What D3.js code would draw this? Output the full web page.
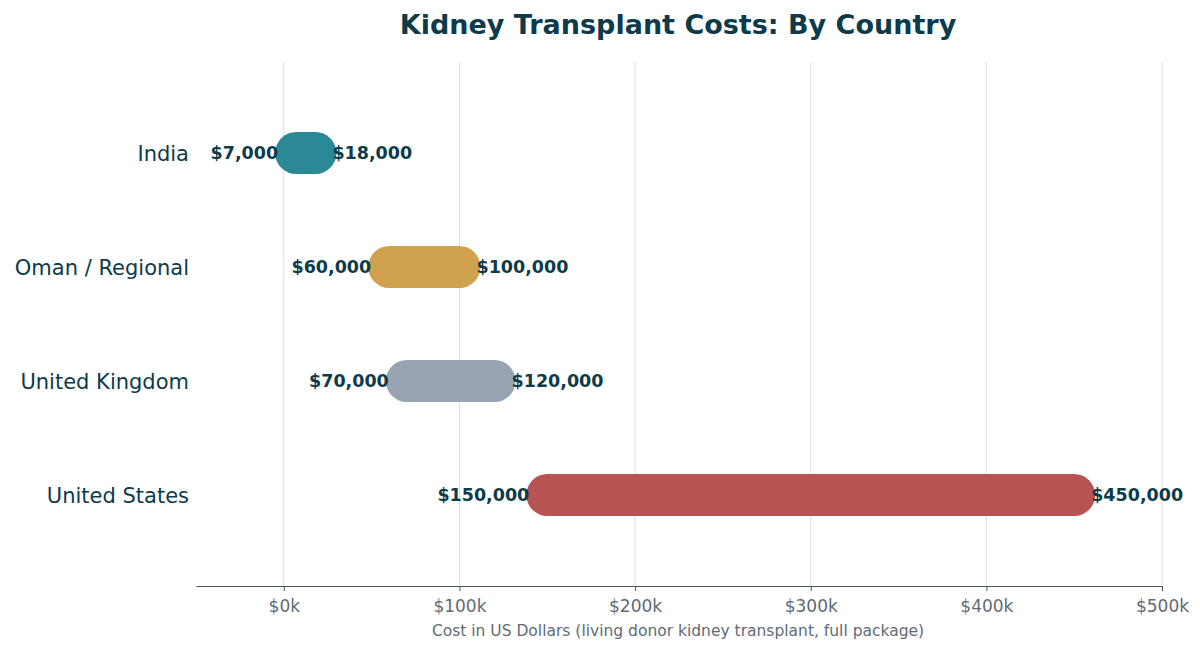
<!DOCTYPE html>
<html><head><meta charset="utf-8">
<script src="https://cdn.jsdelivr.net/npm/d3@7"></script>
<style>body{margin:0;background:#fff;font-family:"DejaVu Sans",sans-serif}</style>
</head><body><svg id="chart" width="1200" height="651"></svg>
<script>
const countries = ["India", "Oman / Regional", "United Kingdom", "United States"];
const lowCost = [7000, 60000, 70000, 150000];
const highCost = [18000, 100000, 120000, 450000];
const barColors = ["#2a8994", "#d1a24d", "#98a4b2", "#b85353"];
const tickValues = [0, 100000, 200000, 300000, 400000, 500000];

const ink = "#0d3b4a";
const svg = d3.select("#chart");
const x = d3.scaleLinear().domain([-50000, 500000]).range([196, 1162]);
const y = d3.scaleBand().domain(countries).range([96, 552]).padding(0);
const barH = 42;
const fmt = v => "$" + d3.format(",")(v);

svg.append("text").attr("x", 678).attr("y", 34).attr("text-anchor", "middle")
  .attr("font-size", 27).attr("font-weight", "bold").attr("fill", ink)
  .text("Kidney Transplant Costs: By Country");

// grid
svg.append("g").selectAll("line").data(tickValues).enter().append("line")
  .attr("x1", d => x(d)).attr("x2", d => x(d)).attr("y1", 62).attr("y2", 586)
  .attr("stroke", "#dddddd").attr("stroke-width", 1);

// axis
const axis = svg.append("g").attr("transform", "translate(0,586)")
  .call(d3.axisBottom(x).tickValues(tickValues).tickSize(5).tickSizeOuter(0).tickPadding(9)
    .tickFormat(d => "$" + d / 1000 + "k"));
axis.select(".domain").attr("stroke", "#4a5a63").attr("stroke-width", 1.2);
axis.selectAll(".tick line").attr("stroke", "#4a5a63");
axis.selectAll("text").attr("font-size", 17).attr("fill", "#5f6b73")
  .attr("font-family", "DejaVu Sans");

svg.append("text").attr("x", 678).attr("y", 636).attr("text-anchor", "middle")
  .attr("font-size", 15.5).attr("fill", "#5f6b73")
  .text("Cost in US Dollars (living donor kidney transplant, full package)");

const cy = d => y(d) + y.bandwidth() / 2;

// bars
svg.append("g").selectAll("line").data(countries).enter().append("line")
  .attr("x1", (d, i) => x(lowCost[i])).attr("x2", (d, i) => x(highCost[i]))
  .attr("y1", cy).attr("y2", cy)
  .attr("stroke", (d, i) => barColors[i]).attr("stroke-width", barH)
  .attr("stroke-linecap", "round");

// country labels
svg.append("g").selectAll("text").data(countries).enter().append("text")
  .attr("x", 189).attr("y", cy).attr("dy", "0.38em").attr("text-anchor", "end")
  .attr("font-size", 21).attr("fill", ink).text(d => d);

// value labels
svg.append("g").selectAll("text").data(countries).enter().append("text")
  .attr("x", (d, i) => x(lowCost[i]) - barH / 2 + 3).attr("y", cy).attr("dy", "0.35em")
  .attr("text-anchor", "end").attr("font-size", 17.5).attr("font-weight", "bold")
  .attr("fill", ink).text((d, i) => fmt(lowCost[i]));
svg.append("g").selectAll("text").data(countries).enter().append("text")
  .attr("x", (d, i) => x(highCost[i]) + barH / 2 - 4).attr("y", cy).attr("dy", "0.35em")
  .attr("text-anchor", "start").attr("font-size", 17.5).attr("font-weight", "bold")
  .attr("fill", ink).text((d, i) => fmt(highCost[i]));
</script></body></html>
